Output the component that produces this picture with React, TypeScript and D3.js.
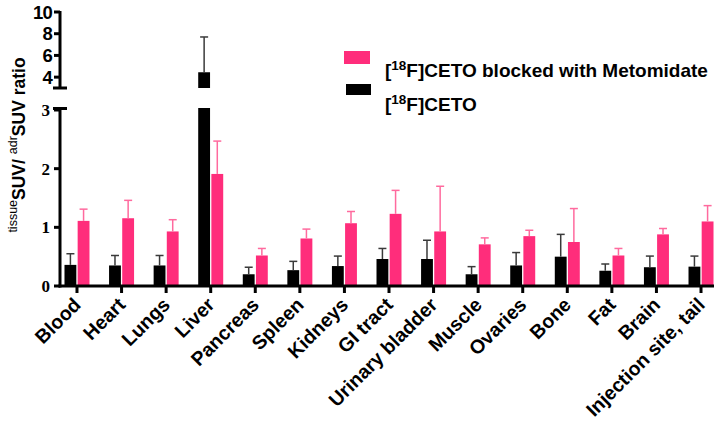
import React from "react";
import * as d3 from "d3";

const categories = ["Blood", "Heart", "Lungs", "Liver", "Pancreas", "Spleen", "Kidneys", "GI tract", "Urinary bladder", "Muscle", "Ovaries", "Bone", "Fat", "Brain", "Injection site, tail"];
const cetoMean = [0.36, 0.35, 0.35, 4.45, 0.2, 0.27, 0.34, 0.46, 0.46, 0.2, 0.35, 0.5, 0.26, 0.32, 0.33];
const cetoSD = [0.19, 0.17, 0.17, 3.25, 0.12, 0.15, 0.17, 0.18, 0.32, 0.13, 0.22, 0.38, 0.115, 0.19, 0.18];
const blockedMean = [1.11, 1.155, 0.93, 1.91, 0.52, 0.81, 1.07, 1.23, 0.93, 0.71, 0.85, 0.75, 0.52, 0.88, 1.1];
const blockedSD = [0.2, 0.305, 0.2, 0.56, 0.12, 0.16, 0.2, 0.4, 0.77, 0.11, 0.1, 0.57, 0.12, 0.1, 0.27];
const lowTicks = [0, 1, 2, 3];
const highTicks = [4, 6, 8, 10];
const seriesKeys = ["ceto", "blocked"];
const legendLabels = ["blocked with Metomidate", ""];

const PINK = "#FF2D7B";
const PINK_ERR = "#FF6A9E";
const BLACK = "#000000";
const BLACK_ERR = "#3a3a3a";

export default function App() {
  const W = 725, H = 422;
  const axisX = 60;
  const yLow = d3.scaleLinear().domain([0, 3]).range([286, 110]);
  const yHigh = d3.scaleLinear().domain([3, 10]).range([88, 12]);
  const yOf = (v: number) => (v <= 3 ? yLow(v) : yHigh(v));
  const x = d3.scaleBand<string>().domain(categories).range([54.7, 723.3]);
  const sub = d3.scaleBand<string>().domain(seriesKeys).range([-12.5, 12.5]).paddingInner(0.1);
  const cx = (c: string) => (x(c) as number) + x.bandwidth() / 2;

  const series = [
    { key: "ceto", mean: cetoMean, sd: cetoSD, fill: BLACK, err: BLACK_ERR },
    { key: "blocked", mean: blockedMean, sd: blockedSD, fill: PINK, err: PINK_ERR },
  ];

  const bars: React.ReactNode[] = [];
  series.forEach((s) => {
    categories.forEach((c, i) => {
      const v = s.mean[i];
      const bx = cx(c) + (sub(s.key) as number);
      const bw = sub.bandwidth();
      const top = v + s.sd[i];
      const ex = bx + bw / 2;
      if (v <= 3) {
        bars.push(<rect key={`${s.key}-${i}`} x={bx} y={yLow(v)} width={bw} height={yLow(0) - yLow(v)} fill={s.fill} />);
      } else {
        bars.push(<rect key={`${s.key}-${i}-lo`} x={bx} y={yLow(3) - 2} width={bw} height={yLow(0) - yLow(3) + 2} fill={s.fill} />);
        bars.push(<rect key={`${s.key}-${i}-hi`} x={bx} y={yHigh(v)} width={bw} height={yHigh(3) - yHigh(v)} fill={s.fill} />);
      }
      bars.push(
        <g key={`${s.key}-${i}-err`} stroke={s.err} strokeWidth={1.5}>
          <line x1={ex} x2={ex} y1={yOf(v)} y2={yOf(top)} />
          <line x1={ex - 4} x2={ex + 4} y1={yOf(top)} y2={yOf(top)} />
        </g>
      );
    });
  });

  return (
    <svg width={W} height={H} style={{ display: "block", position: "absolute", left: 0, top: 0 }}>
      <rect width={W} height={H} fill="#fff" />
      {bars}
      {/* Y axis bottom segment */}
      <line x1={axisX} x2={axisX} y1={108} y2={287.5} stroke="#000" strokeWidth={3} />
      <line x1={53} x2={67} y1={108.5} y2={108.5} stroke="#000" strokeWidth={3} />
      {lowTicks.map((t) => (
        <g key={`lt${t}`}>
          <line x1={54} x2={axisX} y1={yLow(t)} y2={yLow(t)} stroke="#000" strokeWidth={3} />
          <text x={50} y={yLow(t)} dy="0.35em" textAnchor="end" fontFamily="Liberation Serif" fontWeight="bold" fontSize={17}>{t}</text>
        </g>
      ))}
      {/* Y axis top segment */}
      <line x1={axisX} x2={axisX} y1={yHigh(10) - 1} y2={yHigh(3)} stroke="#000" strokeWidth={3} />
      <line x1={53} x2={67} y1={yHigh(3)} y2={yHigh(3)} stroke="#000" strokeWidth={3} />
      {highTicks.map((t) => (
        <g key={`ht${t}`}>
          <line x1={54} x2={axisX} y1={yHigh(t)} y2={yHigh(t)} stroke="#000" strokeWidth={3} />
          <text x={52} y={yHigh(t)} dy="0.36em" textAnchor="end" fontFamily="Liberation Sans" fontWeight="bold" fontSize={18.5} letterSpacing={-0.8}>{t}</text>
        </g>
      ))}
      {/* X axis */}
      <line x1={58.5} x2={714} y1={286} y2={286} stroke="#000" strokeWidth={3} />
      {categories.map((c) => (
        <g key={`xt${c}`}>
          <line x1={cx(c)} x2={cx(c)} y1={286} y2={293} stroke="#000" strokeWidth={3} />
          <text transform={`translate(${cx(c) + 5},306) rotate(-45)`} textAnchor="end" fontFamily="Liberation Sans" fontWeight="bold" fontSize={19.5}>{c}</text>
        </g>
      ))}
      {/* Y label */}
      <text transform="translate(25,145) rotate(-90)" textAnchor="middle" fontFamily="Liberation Sans">
        <tspan fontSize={12.5} dy={-8}>tissue</tspan>
        <tspan fontSize={17.5} fontWeight="bold" dy={8}>SUV/ </tspan>
        <tspan fontSize={12.5} dy={-8}>adr</tspan>
        <tspan fontSize={17.5} fontWeight="bold" dy={8}>SUV ratio</tspan>
      </text>
      {/* Legend */}
      <rect x={344} y={51} width={26} height={13} fill={PINK} />
      <rect x={346} y={84} width={25} height={11} fill={BLACK} />
      {legendLabels.map((l, i) => (
        <text key={`lg${i}`} x={385} y={i === 0 ? 77 : 111} fontFamily="Liberation Sans" fontWeight="bold" fontSize={19}>
          <tspan>[</tspan>
          <tspan fontSize={13.5} dy={-7.5}>18</tspan>
          <tspan dy={7.5}>F]CETO{l ? " " + l : ""}</tspan>
        </text>
      ))}
    </svg>
  );
}
